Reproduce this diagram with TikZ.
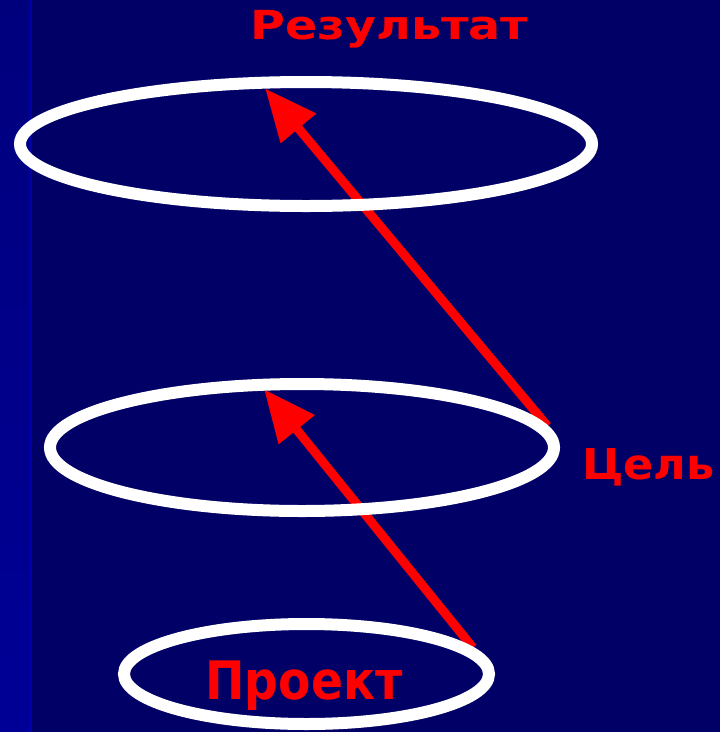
\documentclass[tikz,border=0pt]{standalone}
\usepackage{fontspec}
\setmainfont{DejaVu Sans}
\usetikzlibrary{shapes.geometric,arrows.meta}
\definecolor{slidebg}{RGB}{0,0,102}
\definecolor{stripdark}{RGB}{0,0,125}
\definecolor{striplight}{RGB}{0,0,150}
\definecolor{slidered}{RGB}{255,0,0}
\pgfdeclarelayer{backdrop}
\pgfdeclarelayer{arrows}
\pgfsetlayers{backdrop,arrows,main}
\newcommand{\wideword}[3]{\fontsize{#1}{#1}\selectfont\scalebox{#2}[1]{#3}}
\begin{document}
\begin{tikzpicture}[x=1pt,y=-1pt,
    ring/.style={ellipse,draw=white,line width=12pt,inner sep=0pt},
    goalarrow/.style={slidered,line width=9pt,-{Triangle[length=52pt,width=44pt]}},
    word/.style={text=slidered,font=\bfseries,anchor=base,inner sep=0pt}]
  \useasboundingbox (0,0) rectangle (720,732);
  \begin{pgfonlayer}{backdrop}
    \fill[slidebg] (0,0) rectangle (720,732);
    \shade[top color=stripdark,bottom color=striplight] (0,0) rectangle (30,732);
    \fill[striplight!80!blue] (29,0) rectangle (32,732);
  \end{pgfonlayer}
  \node[ring,minimum width=572pt,minimum height=124pt] (res) at (306,144) {};
  \node[ring,minimum width=504pt,minimum height=127pt] (goal) at (302,447.5) {};
  \node[ring,minimum width=365pt,minimum height=100pt] (proj) at (306.5,674) {};
  \node[word] (restext) at (389.5,39) {\wideword{40}{1.19}{Результат}};
  \node[word,anchor=base west] (goaltext) at (582,479) {\wideword{42.5}{1.05}{Цель}};
  \node[word] (projtext) at (304,699) {\wideword{53}{0.89}{Проект}};
  \begin{pgfonlayer}{arrows}
    \draw[goalarrow,shorten >=15pt] (goal.5.5) -- (res.127.6);
    \draw[goalarrow,shorten >=13pt] (proj.9) -- (goal.124);
  \end{pgfonlayer}
\end{tikzpicture}
\end{document}
